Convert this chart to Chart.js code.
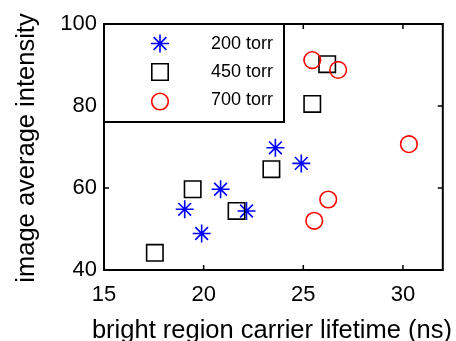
<!DOCTYPE html>
<html><head><meta charset="utf-8">
<script src="https://cdn.jsdelivr.net/npm/chart.js@4/dist/chart.umd.min.js"></script>
<style>html,body{margin:0;padding:0;background:#fff;overflow:hidden}#wrap{width:456px;height:341px}</style>
</head><body><div id="wrap"><canvas id="c" width="456" height="341"></canvas></div>
<script>
// ---- data ----
const xTicks = [15, 20, 25, 30];
const yTicks = [40, 60, 80, 100];
const seriesNames = ['200 torr', '450 torr', '700 torr'];
const x200 = [23.6, 24.9, 20.85, 19.05, 22.15, 19.9];
const y200 = [69.8, 66.0, 59.7, 54.8, 54.4, 48.9];
const x450 = [26.2, 25.45, 23.4, 19.45, 21.65, 17.55];
const y450 = [90.2, 80.5, 64.6, 59.7, 54.4, 44.2];
const x700 = [25.45, 26.75, 30.3, 26.25, 25.55];
const y700 = [91.2, 88.8, 70.7, 57.2, 52.0];
const xTitle = 'bright region carrier lifetime (ns)';
const yTitle = 'image average intensity';

const pts = (xs, ys) => xs.map((x, i) => ({x: x, y: ys[i]}));
const FONT = "'Liberation Sans', Arial, sans-serif";

const datasets = [
  {label: seriesNames[0], data: pts(x200, y200), pointStyle: 'star', pointRadius: 9,
   borderColor: '#0000ff', backgroundColor: 'rgba(0,0,0,0)', pointBorderWidth: 1.6, order: 3},
  {label: seriesNames[1], data: pts(x450, y450), pointStyle: 'rect', pointRadius: 11.6,
   borderColor: '#000000', backgroundColor: 'rgba(0,0,0,0)', pointBorderWidth: 1.6, order: 2},
  {label: seriesNames[2], data: pts(x700, y700), pointStyle: 'circle', pointRadius: 8.3,
   borderColor: '#ff0000', backgroundColor: 'rgba(0,0,0,0)', pointBorderWidth: 1.6, order: 1}
];

const framePlugin = {
  id: 'frame',
  afterDatasetsDraw(chart) {
    const ctx = chart.ctx, a = chart.chartArea;
    const xs = chart.scales.x, ys = chart.scales.y;
    ctx.save();
    ctx.strokeStyle = '#000';
    // inward ticks
    ctx.lineWidth = 1.5;
    const tl = 5;
    ctx.beginPath();
    xTicks.forEach(v => {
      const p = xs.getPixelForValue(v);
      ctx.moveTo(p, a.bottom); ctx.lineTo(p, a.bottom - tl);
      ctx.moveTo(p, a.top); ctx.lineTo(p, a.top + tl);
    });
    yTicks.forEach(v => {
      const p = ys.getPixelForValue(v);
      ctx.moveTo(a.left, p); ctx.lineTo(a.left + tl, p);
      ctx.moveTo(a.right, p); ctx.lineTo(a.right - tl, p);
    });
    ctx.stroke();
    // frame
    ctx.lineWidth = 2;
    ctx.strokeRect(a.left, a.top, a.right - a.left, a.bottom - a.top);
    // legend box
    const lw = 180, lh = 98;
    ctx.fillStyle = '#fff';
    ctx.fillRect(a.left, a.top, lw, lh);
    ctx.strokeRect(a.left, a.top, lw, lh);
    const rows = [19.5, 48, 77.5];
    const trows = [20.5, 48.5, 76];
    chart.data.datasets.forEach((ds, i) => {
      ctx.fillStyle = 'rgba(0,0,0,0)';
      ctx.strokeStyle = ds.borderColor;
      ctx.lineWidth = ds.pointBorderWidth;
      Chart.helpers.drawPoint(ctx, {
        pointStyle: ds.pointStyle, radius: ds.pointRadius, rotation: 0,
        borderWidth: ds.pointBorderWidth
      }, a.left + 56, a.top + rows[i]);
      ctx.font = '18px ' + FONT;
      ctx.textBaseline = 'middle';
      ctx.textAlign = 'left';
      ctx.fillStyle = '#000';
      ctx.fillText(ds.label, a.left + 107, a.top + trows[i]);
    });
    // axis titles (drawn without width clamping)
    ctx.fillStyle = '#000';
    ctx.textAlign = 'center';
    ctx.textBaseline = 'alphabetic';
    ctx.font = '25.5px ' + FONT;
    ctx.fillText(xTitle, (a.left + a.right) / 2 - 1.5, 337.5);
    ctx.save();
    ctx.translate(33.5, (a.top + a.bottom) / 2 + 1);
    ctx.rotate(-Math.PI / 2);
    ctx.font = '25.5px ' + FONT;
    ctx.fillText(yTitle, 0, 0);
    ctx.restore();
    ctx.restore();
  }
};

Chart.defaults.color = '#000';
Chart.defaults.font.family = FONT;

new Chart(document.getElementById('c'), {
  type: 'scatter',
  data: {datasets: datasets},
  options: {
    responsive: false, animation: false, devicePixelRatio: 1, events: [],
    layout: {padding: {left: 0, right: 7, top: 24, bottom: 0}},
    plugins: {legend: {display: false}, tooltip: {enabled: false}},
    scales: {
      x: {
        type: 'linear', min: 15, max: 32,
        afterBuildTicks: s => { s.ticks = xTicks.map(v => ({value: v})); },
        afterFit: s => { s.height = 71; },
        grid: {display: false, drawTicks: false},
        border: {display: false},
        ticks: {font: {size: 22}, padding: 12, maxRotation: 0, autoSkip: false},
        title: {display: false}
      },
      y: {
        type: 'linear', min: 40, max: 100,
        afterBuildTicks: s => { s.ticks = yTicks.map(v => ({value: v})); },
        afterFit: s => { s.width = 104; },
        grid: {display: false, drawTicks: false},
        border: {display: false},
        ticks: {font: {size: 22}, padding: 7, autoSkip: false},
        title: {display: false}
      }
    }
  },
  plugins: [framePlugin]
});
</script>
</body></html>
